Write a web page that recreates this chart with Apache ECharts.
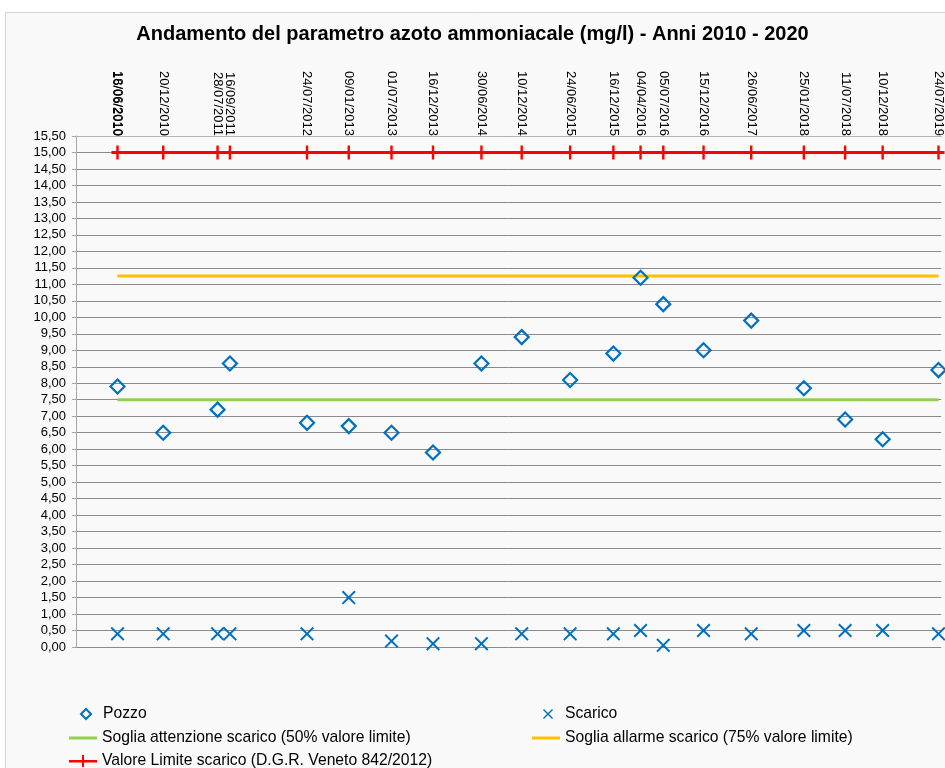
<!DOCTYPE html>
<html>
<head>
<meta charset="utf-8">
<script src="https://cdn.jsdelivr.net/npm/echarts@6/dist/echarts.min.js"></script>
<style>
html,body{margin:0;padding:0;background:#fff;}
#c{width:945px;height:768px;}
</style>
</head>
<body>
<div id="c"></div>
<script>
// ---- data ----
const axisDateLabels = ['14/06/2010','16/06/2010','18/06/2010','20/12/2010','28/07/2011','16/09/2011','24/07/2012','09/01/2013','01/07/2013','16/12/2013','30/06/2014','10/12/2014','24/06/2015','16/12/2015','04/04/2016','05/07/2016','15/12/2016','26/06/2017','25/01/2018','11/07/2018','10/12/2018','24/07/2019'];
const dates = ['18/06/2010','20/12/2010','28/07/2011','16/09/2011','24/07/2012','09/01/2013','01/07/2013','16/12/2013','30/06/2014','10/12/2014','24/06/2015','16/12/2015','04/04/2016','05/07/2016','15/12/2016','26/06/2017','25/01/2018','11/07/2018','10/12/2018','24/07/2019'];
const pozzo = [7.9,6.5,7.2,8.6,6.8,6.7,6.5,5.9,8.6,9.4,8.1,8.9,11.2,10.4,9.0,9.9,7.85,6.9,6.3,8.4];
const scarico = [0.4,0.4,0.4,0.4,0.4,1.5,0.18,0.1,0.1,0.4,0.4,0.4,0.5,0.05,0.5,0.4,0.5,0.5,0.5,0.4];
const valoreLimite = 15;
const sogliaAttenzione = 7.5;
const sogliaAllarme = 11.25;
const axisMinDate = '01/01/2010';
const axisMaxDate = '04/08/2019';

const names = {
  pozzo: 'Pozzo',
  scarico: 'Scarico',
  att: 'Soglia attenzione scarico (50% valore limite)',
  all: 'Soglia allarme scarico (75% valore limite)',
  lim: 'Valore Limite scarico (D.G.R. Veneto 842/2012)'
};

function parseDate(s){ const p = s.split('/'); return Date.UTC(+p[2], +p[1]-1, +p[0]); }
const labelByTs = {};
axisDateLabels.forEach(s => { labelByTs[parseDate(s)] = s; });

const FONT = 'Liberation Sans';
const BLUE = '#0070c0';
const xPath = 'path://M0,1L1,0L5,4L9,0L10,1L6,5L10,9L9,10L5,6L1,10L0,9L4,5Z';
const plusPath = 'path://M4,0H6V4H10V6H6V10H4V6H0V4H4Z';
const legendPlusLine = 'path://M0,5H13V0H15V5H28V7.4H15V12H13V7.4H0Z';

const chart = echarts.init(document.getElementById('c'));
const LEG_FS = 15.7;
function legendAt(name, left, top, extra){
  return Object.assign({
    data:[name], left:left, top:top, itemGap:0, padding:0,
    textStyle:{fontFamily:FONT, fontSize:LEG_FS, color:'#000'},
    selectedMode:false
  }, extra||{});
}
chart.setOption({
  animation:false,
  backgroundColor:'#ffffff',
  textStyle:{fontFamily:FONT},
  graphic:[{type:'rect', shape:{x:5.5, y:12.5, width:1000, height:800}, style:{fill:'#f9f9f9', stroke:'#d4d4d4', lineWidth:1}, z:-10, silent:true}],
  title:{text:'Andamento del parametro azoto ammoniacale (mg/l) - Anni 2010 - 2020', left:'center', top:19,
    textStyle:{fontFamily:FONT, fontSize:20, fontWeight:'bold', color:'#000'}},
  legend:[
    legendAt(names.pozzo, 80, 706, {itemWidth:10, itemHeight:10, textStyle:{fontFamily:FONT,fontSize:LEG_FS,color:'#000',padding:[0,0,0,7]}}),
    legendAt(names.scarico, 543, 706, {itemWidth:10, itemHeight:10, textStyle:{fontFamily:FONT,fontSize:LEG_FS,color:'#000',padding:[0,0,0,7]}}),
    legendAt(names.att, 69, 730, {icon:'rect', itemWidth:28, itemHeight:3}),
    legendAt(names.all, 532, 730, {icon:'rect', itemWidth:28, itemHeight:3}),
    legendAt(names.lim, 69, 753, {icon:legendPlusLine, itemWidth:28, itemHeight:12})
  ],
  grid:{left:76, right:0, top:136, bottom:121, containLabel:false},
  xAxis:{
    type:'value', position:'top',
    min:parseDate(axisMinDate), max:parseDate(axisMaxDate),
    axisLine:{show:true, onZero:false, lineStyle:{color:'#b3b3b3', width:1}},
    axisTick:{show:false},
    splitLine:{show:false},
    axisLabel:{
      customValues: axisDateLabels.map(parseDate),
      rotate:90, margin:0, fontFamily:FONT, fontSize:13, color:'#000',
      formatter: v => labelByTs[v] || ''
    }
  },
  yAxis:{
    type:'value', min:0, max:15.5, interval:0.5,
    axisLine:{show:true, lineStyle:{color:'#a6a6a6'}},
    axisTick:{show:true, length:4, lineStyle:{color:'#a6a6a6'}},
    splitLine:{show:true, lineStyle:{color:'#8a8a8a', width:1}},
    axisLabel:{margin:10, fontFamily:FONT, fontSize:13, color:'#000',
      formatter: v => v.toFixed(2).replace('.', ',')}
  },
  series:[
    {name:names.att, type:'line', data:dates.map(d=>[parseDate(d), sogliaAttenzione]), symbol:'none',
      lineStyle:{color:'#92d050', width:3}, itemStyle:{color:'#92d050'}, z:2},
    {name:names.all, type:'line', data:dates.map(d=>[parseDate(d), sogliaAllarme]), symbol:'none',
      lineStyle:{color:'#ffc000', width:3}, itemStyle:{color:'#ffc000'}, z:2},
    {name:names.lim, type:'line', data:dates.map(d=>[parseDate(d), valoreLimite]), symbol:plusPath, symbolSize:[12,14],
      showAllSymbol:true,
      lineStyle:{color:'#ff0000', width:3}, itemStyle:{color:'#ff0000'}, z:3},
    {name:names.pozzo, type:'scatter', data:dates.map((d,i)=>[parseDate(d), pozzo[i]]), symbol:'diamond', symbolSize:14,
      itemStyle:{color:'rgba(0,0,0,0)', borderColor:BLUE, borderWidth:2.2, opacity:1}, z:5},
    {name:names.scarico, type:'scatter', data:dates.map((d,i)=>[parseDate(d), scarico[i]]), symbol:xPath, symbolSize:14,
      itemStyle:{color:BLUE, opacity:1}, z:5}
  ]
});
</script>
</body>
</html>
